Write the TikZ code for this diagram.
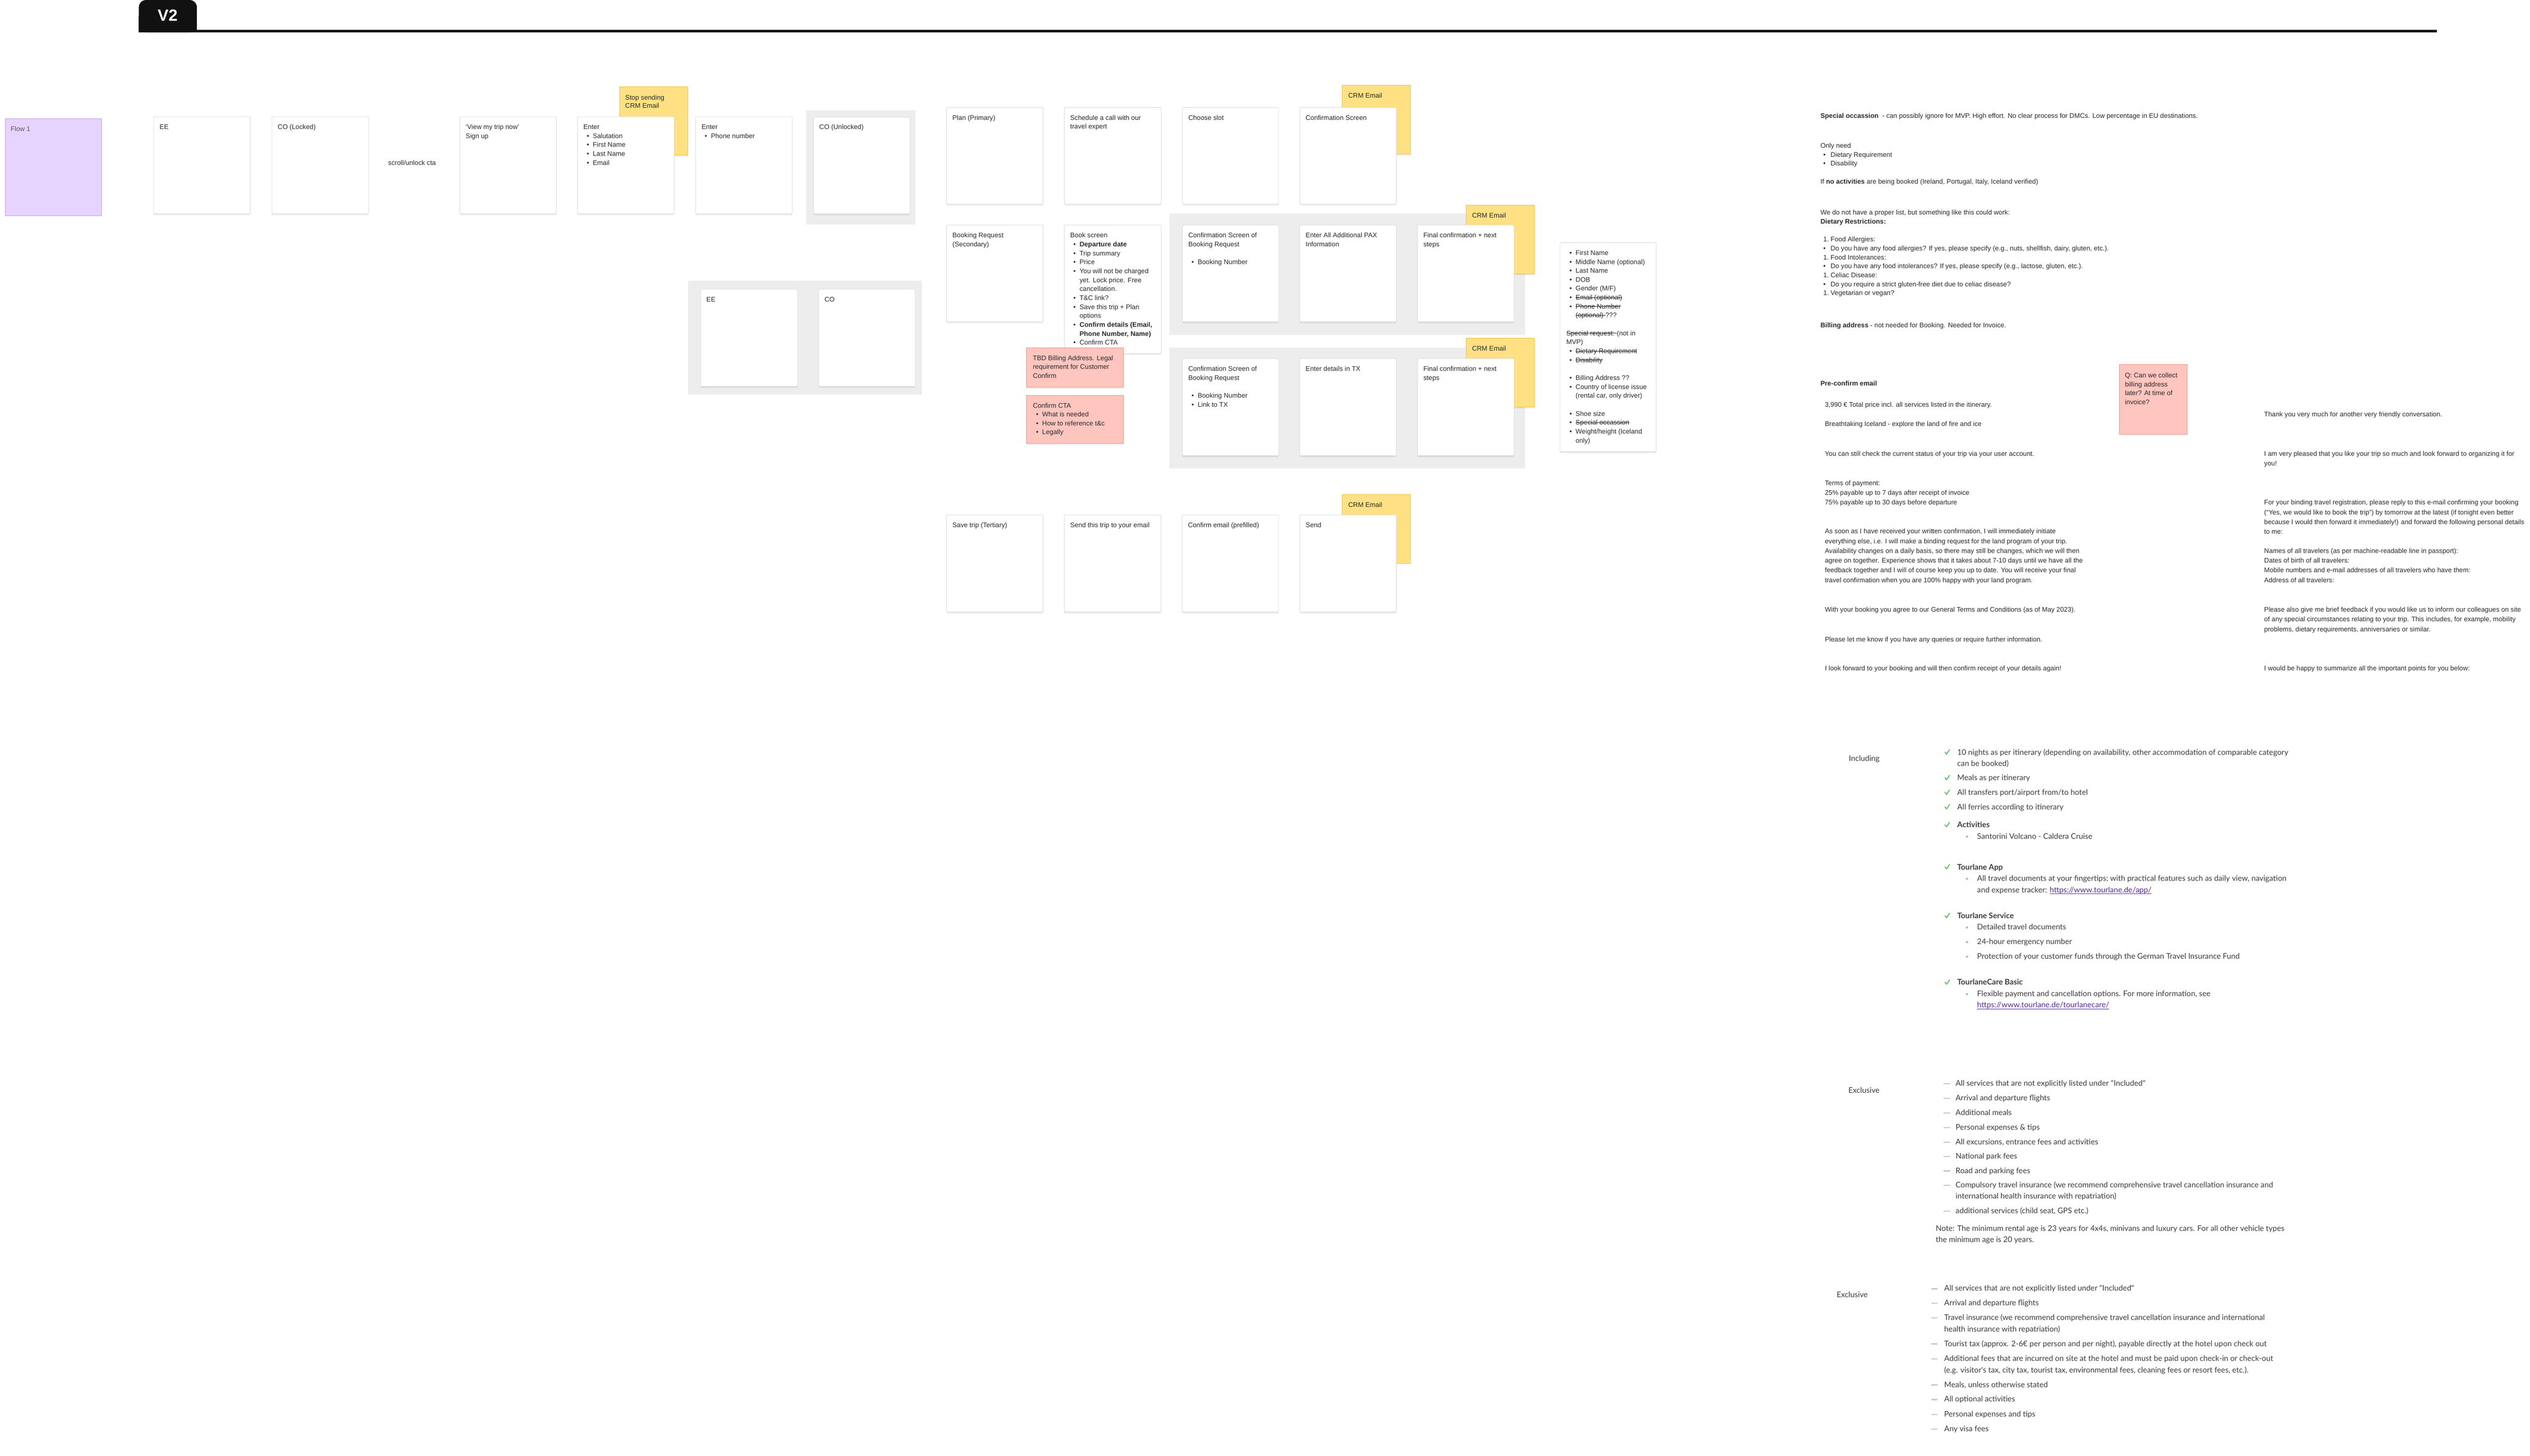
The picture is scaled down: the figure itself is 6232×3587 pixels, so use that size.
\documentclass[tikz,border=0pt]{standalone}
\usepackage{fontspec}
\setmainfont{Liberation Sans}
\newfontfamily\lato{Lato}
\usetikzlibrary{shadows}
\definecolor{cardline}{HTML}{DCDCDC}
\definecolor{framec}{HTML}{EDEDED}
\definecolor{stickyY}{HTML}{FFE083}
\definecolor{stickyYb}{HTML}{F5C431}
\definecolor{stickyP}{HTML}{FFC5BE}
\definecolor{stickyPb}{HTML}{F4958A}
\definecolor{flowP}{HTML}{E6D3FF}
\definecolor{flowPb}{HTML}{C99BF4}
\definecolor{ink}{HTML}{2A2A2A}
\definecolor{ink2}{HTML}{3C3C3C}
\definecolor{chkc}{HTML}{55C666}
\definecolor{dotc}{HTML}{7AD487}
\definecolor{dashc}{HTML}{C8C8C8}
\definecolor{linkc}{HTML}{5B2B9E}
\definecolor{hdr}{HTML}{111111}
\newsavebox\sobox
\newcommand\strk[1]{\sbox\sobox{#1}\rlap{\rule[0.3em]{\wd\sobox}{1.1pt}}\usebox\sobox}
\newcommand\ulk[1]{\sbox\sobox{#1}\rlap{\rule[-0.17em]{\wd\sobox}{1.1pt}}\usebox\sobox}
\newcommand\ml[1]{\begin{tabular}[t]{@{}l@{}}#1\end{tabular}}
\newcommand\bu{\hspace*{8pt}\makebox[15pt][l]{\textbullet}}
\newcommand\bc{\hspace*{23pt}}
\newcommand\nb[1]{\hspace*{7pt}\makebox[18pt][l]{#1}}
\tikzset{
  card/.style={draw=cardline, line width=1.2pt, fill=white, rounded corners=2pt, anchor=north west, inner sep=0pt,
    drop shadow={shadow xshift=0pt, shadow yshift=-4pt, opacity=0.07, fill=black}},
  framebox/.style={fill=framec, anchor=north west, inner sep=0pt},
  stickyy/.style={fill=stickyY, draw=stickyYb, line width=1pt, anchor=north west, inner sep=0pt,
    drop shadow={shadow xshift=0pt, shadow yshift=-4pt, opacity=0.06, fill=black}},
  stickyp/.style={fill=stickyP, draw=stickyPb, line width=1pt, anchor=north west, inner sep=0pt,
    drop shadow={shadow xshift=0pt, shadow yshift=-4pt, opacity=0.06, fill=black}},
  tx/.style={anchor=mid west, inner sep=0pt, yshift=-2pt, text=ink, font=\fontsize{16.5}{22}\selectfont},
  txb/.style={tx, font=\fontsize{16.5}{24}\selectfont},
  lt/.style={anchor=mid west, inner sep=0pt, text=ink2, font=\lato\fontsize{19}{28}\selectfont},
}
\newcommand\crd[5]{\node[card, minimum width=#4pt, minimum height=#5pt] (#1) at (#2,#3) {};}
\newcommand\frm[5]{\node[framebox, minimum width=#4pt, minimum height=#5pt] (#1) at (#2,#3) {};}
\newcommand\tl[4]{\node[tx] (#1) at (#2,#3) {#4};}
\newcommand\tlb[4]{\node[txb] (#1) at (#2,#3) {#4};}
\newcommand\lo[4]{\node[lt] (#1) at (#2,#3) {#4};}
\newcommand\chk[1]{\draw[chkc, line width=2.4pt, line cap=round, line join=round] (4791,{#1-4}) -- (4795,{#1+1}) -- (4802,{#1-10});}
\newcommand\gdot[1]{\fill[dotc] (4845,{#1-3}) circle (2.6pt);}
\newcommand\dsh[2]{\draw[dashc, line width=3pt] (#1,{#2-3}) -- ({#1+16},{#2-3});}
\begin{document}
\begin{tikzpicture}[x=1pt,y=-1pt]
\useasboundingbox (0,0) rectangle (6232,3587);
\fill[white] (0,0) rectangle (6232,3587);
% header
\fill[hdr, rounded corners=18pt] (342,0) rectangle (485,80);
\fill[hdr] (342,40) rectangle (485,80);
\fill[hdr] (342,74) rectangle (6002,80);
\node[text=white, font=\bfseries\fontsize{40}{40}\selectfont, inner sep=0pt] (v2) at (413,38) {V2};
% flow 1
\node[fill=flowP, draw=flowPb, line width=1.2pt, anchor=north west, inner sep=0pt, minimum width=237pt, minimum height=239pt] (flow) at (12,292) {};
\node[tx, text=black!65] (flowt) at (26,319) {Flow 1};
% frames
\frm{fr1}{1985}{272}{270}{281}
\frm{fr2}{1695}{692}{576}{280}
\frm{fr3}{2880}{526}{876}{299}
\frm{fr4}{2880}{856}{876}{298}
% stickies (behind cards)
\node[stickyy, minimum width=169pt, minimum height=169pt] (s1) at (1525,213) {};
\node[stickyy, minimum width=168pt, minimum height=169pt] (s2) at (3306,210) {};
\node[stickyy, minimum width=168pt, minimum height=169pt] (s3) at (3611,505) {};
\node[stickyy, minimum width=168pt, minimum height=169pt] (s4) at (3611,833) {};
\node[stickyy, minimum width=168pt, minimum height=169pt] (s5) at (3306,1218) {};
\tl{s1t}{1540}{241}{\ml{Stop sending\\[-1pt]CRM Email}}
\tl{s2t}{3321}{237}{CRM Email}
\tl{s3t}{3626}{532}{CRM Email}
\tl{s4t}{3626}{860}{CRM Email}
\tl{s5t}{3321}{1245}{CRM Email}
% row 1 cards
\crd{ee}{378}{287}{238}{239}
\crd{col}{669}{287}{238}{239}
\crd{view}{1132}{287}{238}{239}
\crd{enter}{1422}{287}{238}{239}
\crd{enterp}{1713}{287}{238}{239}
\crd{cou}{2003}{288}{238}{238}
\tl{eet}{393}{314}{EE}
\tl{colt}{684}{314}{CO (Locked)}
\tl{scroll}{956}{402}{scroll/unlock cta}
\tl{viewt}{1147}{314}{\ml{`View my trip now'\\Sign up}}
\tl{entert}{1437}{314}{\ml{Enter\\\bu Salutation\\\bu First Name\\\bu Last Name\\\bu Email}}
\tl{enterpt}{1728}{314}{\ml{Enter\\\bu Phone number}}
\tl{cout}{2018}{314}{CO (Unlocked)}
% EE / CO inner
\crd{ee2}{1725}{712}{239}{239}
\crd{co2}{2016}{712}{238}{239}
\tl{ee2t}{1740}{739}{EE}
\tl{co2t}{2031}{739}{CO}
% row A
\crd{plan}{2331}{264}{238}{238}
\crd{sched}{2621}{264}{239}{238}
\crd{slot}{2912}{264}{237}{238}
\crd{confs}{3201}{264}{238}{238}
\tl{plant}{2346}{291}{Plan (Primary)}
\tl{schedt}{2636}{291}{\ml{Schedule a call with our\\travel expert}}
\tl{slott}{2927}{291}{Choose slot}
\tl{confst}{3216}{291}{Confirmation Screen}
% row B
\crd{breq}{2331}{554}{238}{238}
\crd{book}{2621}{554}{239}{316}
\crd{cb1}{2912}{554}{237}{238}
\crd{pax}{3201}{554}{238}{238}
\crd{fin1}{3491}{554}{238}{238}
\tl{breqt}{2346}{581}{\ml{Booking Request\\(Secondary)}}
\tl{bookt}{2636}{581}{\ml{Book screen\\\bu\textbf{Departure date}\\\bu Trip summary\\\bu Price\\\bu You will not be charged\\\bc yet. Lock price. Free\\\bc cancellation.\\\bu T\&C link?\\\bu Save this trip + Plan\\\bc options\\\bu\textbf{Confirm details (Email,}\\\bc\textbf{Phone Number, Name)}\\\bu Confirm CTA}}
\tl{cb1t}{2927}{581}{\ml{Confirmation Screen of\\Booking Request\\~\\\bu Booking Number}}
\tl{paxt}{3216}{581}{\ml{Enter All Additional PAX\\Information}}
\tl{fin1t}{3506}{581}{\ml{Final confirmation + next\\steps}}
% pink notes
\node[stickyp, minimum width=239pt, minimum height=98pt] (tbd) at (2528,856) {};
\node[stickyp, minimum width=239pt, minimum height=119pt] (cta) at (2528,973) {};
\tl{tbdt}{2544}{883}{\ml{TBD Billing Address. Legal\\requirement for Customer\\Confirm}}
\tl{ctat}{2544}{1000}{\ml{Confirm CTA\\\bu What is needed\\\bu How to reference t\&c\\\bu Legally}}
% row C
\crd{cb2}{2912}{883}{237}{239}
\crd{txc}{3201}{883}{238}{239}
\crd{fin2}{3491}{883}{238}{239}
\tl{cb2t}{2927}{910}{\ml{Confirmation Screen of\\Booking Request\\~\\\bu Booking Number\\\bu Link to TX}}
\tl{txct}{3216}{910}{Enter details in TX}
\tl{fin2t}{3506}{910}{\ml{Final confirmation + next\\steps}}
% row D
\crd{save}{2331}{1268}{238}{239}
\crd{sendtr}{2621}{1268}{238}{239}
\crd{cemail}{2911}{1268}{238}{239}
\crd{send}{3201}{1268}{238}{239}
\tl{savet}{2346}{1295}{Save trip (Tertiary)}
\tl{sendtrt}{2636}{1295}{Send this trip to your email}
\tl{cemailt}{2926}{1295}{Confirm email (prefilled)}
\tl{sendx}{3216}{1295}{Send}
% form card
\crd{form}{3842}{597}{237}{515}
\tl{formt}{3858}{624}{\ml{\bu First Name\\\bu Middle Name (optional)\\\bu Last Name\\\bu DOB\\\bu Gender (M/F)\\\bu\strk{Email (optional)}\\\bu\strk{Phone Number}\\\bc\strk{(optional) }???\\~\\\strk{Special request: }(not in\\MVP)\\\bu\strk{Dietary Requirement}\\\bu\strk{Disability}\\~\\\bu Billing Address ??\\\bu Country of license issue\\\bc(rental car, only driver)\\~\\\bu Shoe size\\\bu\strk{Special occassion}\\\bu Weight/height (Iceland\\\bc only)}}
% notes
\tl{n1}{4484}{286}{\textbf{Special occassion} \ - can possibly ignore for MVP. High effort. No clear process for DMCs. Low percentage in EU destinations.}
\tl{n2}{4484}{360}{\ml{Only need\\\nb{\textbullet}Dietary Requirement\\\nb{\textbullet}Disability}}
\tl{n3}{4484}{448}{If \textbf{no activities} are being booked (Ireland, Portugal, Italy, Iceland verified)}
\tl{n4}{4484}{525}{\ml{We do not have a proper list, but something like this could work:\\\textbf{Dietary Restrictions:}}}
\tl{n5}{4484}{591}{\ml{\nb{1.}Food Allergies:\\\nb{\textbullet}Do you have any food allergies? If yes, please specify (e.g., nuts, shellfish, dairy, gluten, etc.).\\\nb{1.}Food Intolerances:\\\nb{\textbullet}Do you have any food intolerances? If yes, please specify (e.g., lactose, gluten, etc.).\\\nb{1.}Celiac Disease:\\\nb{\textbullet}Do you require a strict gluten-free diet due to celiac disease?\\\nb{1.}Vegetarian or vegan?}}
\tl{n6}{4484}{802}{\textbf{Billing address} - not needed for Booking. Needed for Invoice.}
% pre-confirm email
\node[stickyp, minimum width=167pt, minimum height=171pt] (q) at (5220,898) {};
\tl{qt}{5234}{926}{\ml{Q: Can we collect\\billing address\\later? At time of\\invoice?}}
\tl{p0}{4484}{946}{\textbf{Pre-confirm email}}
\tl{p1}{4495}{998}{3,990 € Total price incl. all services listed in the itinerary.}
\tl{p2}{4495}{1046}{Breathtaking Iceland - explore the land of fire and ice}
\tl{p3}{4495}{1119}{You can still check the current status of your trip via your user account.}
\tlb{p4}{4495}{1191}{\ml{Terms of payment:\\25\% payable up to 7 days after receipt of invoice\\75\% payable up to 30 days before departure}}
\tlb{p5}{4495}{1310}{\ml{As soon as I have received your written confirmation, I will immediately initiate\\everything else, i.e. I will make a binding request for the land program of your trip.\\Availability changes on a daily basis, so there may still be changes, which we will then\\agree on together. Experience shows that it takes about 7-10 days until we have all the\\feedback together and I will of course keep you up to date. You will receive your final\\travel confirmation when you are 100\% happy with your land program.}}
\tl{p6}{4495}{1503}{With your booking you agree to our General Terms and Conditions (as of May 2023).}
\tl{p7}{4495}{1576}{Please let me know if you have any queries or require further information.}
\tl{p8}{4495}{1648}{I look forward to your booking and will then confirm receipt of your details again!}
\tl{r1}{5577}{1022}{Thank you very much for another very friendly conversation.}
\tlb{r2}{5577}{1119}{\ml{I am very pleased that you like your trip so much and look forward to organizing it for\\you!}}
\tlb{r3}{5577}{1239}{\ml{For your binding travel registration, please reply to this e-mail confirming your booking\\(``Yes, we would like to book the trip'') by tomorrow at the latest (if tonight even better\\because I would then forward it immediately!) and forward the following personal details\\to me:}}
\tlb{r4}{5577}{1358}{\ml{Names of all travelers (as per machine-readable line in passport):\\Dates of birth of all travelers:\\Mobile numbers and e-mail addresses of all travelers who have them:\\Address of all travelers:}}
\tlb{r5}{5577}{1503}{\ml{Please also give me brief feedback if you would like us to inform our colleagues on site\\of any special circumstances relating to your trip. This includes, for example, mobility\\problems, dietary requirements, anniversaries or similar.}}
\tl{r6}{5577}{1648}{I would be happy to summarize all the important points for you below:}
% including
\lo{inc}{4554}{1873}{Including}
\chk{1857}\chk{1920}\chk{1956}\chk{1992}\chk{2036}\chk{2140}\chk{2260}\chk{2424}
\lo{i1}{4821}{1857}{10 nights as per itinerary (depending on availability, other accommodation of comparable category}
\lo{i1b}{4821}{1885}{can be booked)}
\lo{i2}{4821}{1920}{Meals as per itinerary}
\lo{i3}{4821}{1956}{All transfers port/airport from/to hotel}
\lo{i4}{4821}{1992}{All ferries according to itinerary}
\lo{i5}{4821}{2036}{\textbf{Activities}}
\gdot{2064}\lo{i5a}{4870}{2064}{Santorini Volcano - Caldera Cruise}
\lo{i6}{4821}{2140}{\textbf{Tourlane App}}
\gdot{2168}\lo{i6a}{4870}{2168}{All travel documents at your fingertips; with practical features such as daily view, navigation}
\lo{i6b}{4870}{2196}{and expense tracker: \textcolor{linkc}{\ulk{https://www.tourlane.de/app/}}}
\lo{i7}{4821}{2260}{\textbf{Tourlane Service}}
\gdot{2288}\lo{i7a}{4870}{2288}{Detailed travel documents}
\gdot{2324}\lo{i7b}{4870}{2324}{24-hour emergency number}
\gdot{2360}\lo{i7c}{4870}{2360}{Protection of your customer funds through the German Travel Insurance Fund}
\lo{i8}{4821}{2424}{\textbf{TourlaneCare Basic}}
\gdot{2452}\lo{i8a}{4870}{2452}{Flexible payment and cancellation options. For more information, see}
\lo{i8b}{4870}{2480}{\textcolor{linkc}{\ulk{https://www.tourlane.de/tourlanecare/}}}
% exclusive 1
\lo{exa}{4553}{2690}{Exclusive}
\dsh{4787}{2673}\dsh{4787}{2709}\dsh{4787}{2745}\dsh{4787}{2781}\dsh{4787}{2817}\dsh{4787}{2852}\dsh{4787}{2888}\dsh{4787}{2923}\dsh{4787}{2987}
\lo{ea1}{4817}{2673}{All services that are not explicitly listed under "Included"}
\lo{ea2}{4817}{2709}{Arrival and departure flights}
\lo{ea3}{4817}{2745}{Additional meals}
\lo{ea4}{4817}{2781}{Personal expenses \& tips}
\lo{ea5}{4817}{2817}{All excursions, entrance fees and activities}
\lo{ea6}{4817}{2852}{National park fees}
\lo{ea7}{4817}{2888}{Road and parking fees}
\lo{ea8}{4817}{2923}{Compulsory travel insurance (we recommend comprehensive travel cancellation insurance and}
\lo{ea8b}{4817}{2951}{international health insurance with repatriation)}
\lo{ea9}{4817}{2987}{additional services (child seat, GPS etc.)}
\lo{note1}{4768}{3031}{Note: The minimum rental age is 23 years for 4x4s, minivans and luxury cars. For all other vehicle types}
\lo{note2}{4768}{3058}{the minimum age is 20 years.}
% exclusive 2
\lo{exb}{4524}{3194}{Exclusive}
\dsh{4757}{3178}\dsh{4757}{3214}\dsh{4757}{3250}\dsh{4757}{3314}\dsh{4757}{3351}\dsh{4757}{3415}\dsh{4757}{3451}\dsh{4757}{3488}\dsh{4757}{3524}
\lo{eb1}{4789}{3178}{All services that are not explicitly listed under "Included"}
\lo{eb2}{4789}{3214}{Arrival and departure flights}
\lo{eb3}{4789}{3250}{Travel insurance (we recommend comprehensive travel cancellation insurance and international}
\lo{eb3b}{4789}{3278}{health insurance with repatriation)}
\lo{eb4}{4789}{3314}{Tourist tax (approx. 2-6€ per person and per night), payable directly at the hotel upon check out}
\lo{eb5}{4789}{3351}{Additional fees that are incurred on site at the hotel and must be paid upon check-in or check-out}
\lo{eb5b}{4789}{3380}{(e.g. visitor's tax, city tax, tourist tax, environmental fees, cleaning fees or resort fees, etc.).}
\lo{eb6}{4789}{3415}{Meals, unless otherwise stated}
\lo{eb7}{4789}{3451}{All optional activities}
\lo{eb8}{4789}{3488}{Personal expenses and tips}
\lo{eb9}{4789}{3524}{Any visa fees}
\end{tikzpicture}
\end{document}
